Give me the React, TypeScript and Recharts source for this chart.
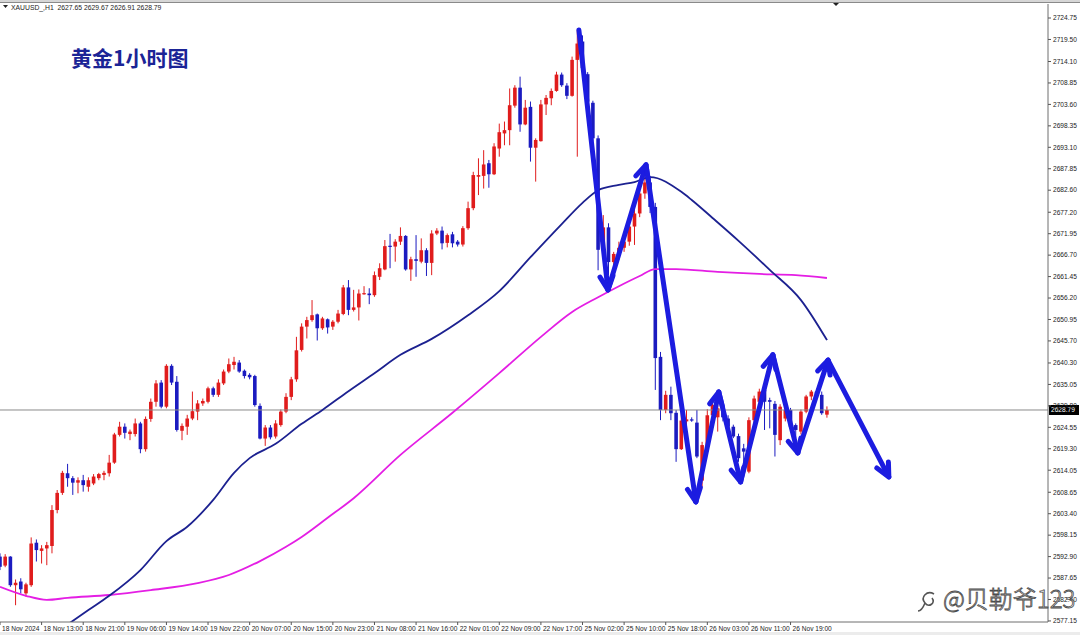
import React from "react";
import { ComposedChart, Bar, Line, XAxis, YAxis, ReferenceLine } from "recharts";

// XAUUSD H1 蜡烛数据（开 / 高 / 低 / 收），按柱序排列
const opens = [
  2592.9, 2590.7, 2592.9, 2585.9, 2586.8, 2583.9, 2585.9, 2596.3, 2594.3, 2594.9,
  2595.5, 2604.3, 2608.5, 2613.3, 2612.1, 2611.0, 2611.6, 2610.0, 2610.8, 2612.1,
  2612.9, 2613.3, 2615.9, 2622.7, 2624.7, 2622.9, 2622.9, 2625.5, 2619.2, 2626.6,
  2630.8, 2635.5, 2629.6, 2639.6, 2635.7, 2623.7, 2624.7, 2626.7, 2628.4, 2630.4,
  2630.8, 2634.1, 2632.5, 2635.3, 2638.2, 2639.8, 2640.4, 2638.4, 2637.4, 2637.1,
  2629.8, 2621.8, 2624.5, 2622.3, 2625.1, 2628.4, 2632.0, 2636.3, 2643.5, 2649.2,
  2650.8, 2652.2, 2648.8, 2651.0, 2649.2, 2650.4, 2652.3, 2658.8, 2653.3, 2653.9,
  2657.3, 2657.3, 2656.9, 2661.4, 2663.2, 2669.0, 2668.8, 2670.0, 2671.4, 2663.2,
  2665.7, 2665.1, 2667.9, 2664.8, 2672.0, 2672.7, 2669.7, 2671.8, 2670.0, 2669.3,
  2673.3, 2678.2, 2685.9, 2686.1, 2689.2, 2686.5, 2692.8, 2696.5, 2697.3, 2703.3,
  2707.7, 2698.7, 2703.0, 2693.0, 2694.6, 2703.6, 2705.1, 2706.9, 2710.9, 2708.2,
  2705.7, 2714.5, 2719.0, 2711.0, 2704.0, 2695.3, 2668.0, 2673.5, 2665.0, 2667.0,
  2668.5, 2670.0, 2673.7, 2676.9, 2681.8, 2684.5, 2678.5, 2641.8, 2628.8, 2632.5,
  2628.1, 2619.2, 2626.0, 2626.5, 2625.7, 2611.5, 2620.2, 2627.5, 2627.0, 2629.2,
  2626.7, 2624.7, 2622.4, 2619.4, 2613.7, 2626.3, 2630.8, 2633.7, 2631.2, 2630.3,
  2621.4, 2626.7, 2628.8, 2625.1, 2623.5, 2628.4, 2632.1, 2633.3, 2632.5, 2627.65,
];
const highs = [
  2593.7, 2593.5, 2593.0, 2587.3, 2587.6, 2586.5, 2597.6, 2597.1, 2595.7, 2596.5,
  2605.5, 2609.2, 2613.9, 2615.6, 2612.6, 2612.3, 2612.9, 2612.3, 2613.1, 2613.4,
  2613.9, 2617.8, 2623.2, 2625.9, 2625.5, 2624.0, 2626.7, 2625.9, 2627.2, 2631.6,
  2636.1, 2636.1, 2640.0, 2640.0, 2637.1, 2625.5, 2627.6, 2633.3, 2631.2, 2631.6,
  2634.5, 2634.5, 2636.3, 2638.7, 2641.4, 2641.8, 2641.0, 2638.7, 2637.8, 2637.4,
  2630.4, 2625.1, 2625.1, 2626.3, 2628.9, 2632.9, 2636.9, 2646.7, 2650.0, 2651.6,
  2655.7, 2652.4, 2651.6, 2651.2, 2650.8, 2653.3, 2659.4, 2660.6, 2658.2, 2658.3,
  2659.1, 2658.6, 2662.7, 2664.7, 2670.4, 2671.9, 2670.6, 2673.5, 2671.6, 2666.3,
  2671.6, 2670.8, 2668.4, 2672.8, 2673.3, 2673.7, 2672.0, 2672.4, 2670.4, 2673.8,
  2679.8, 2687.1, 2690.4, 2692.4, 2690.0, 2694.1, 2698.9, 2699.4, 2707.5, 2708.3,
  2710.4, 2704.7, 2704.3, 2695.3, 2704.7, 2705.9, 2707.5, 2711.6, 2711.4, 2708.8,
  2715.3, 2721.8, 2720.5, 2711.5, 2704.5, 2696.0, 2676.5, 2674.5, 2667.5, 2670.0,
  2671.0, 2674.5, 2678.5, 2683.0, 2686.0, 2686.0, 2679.5, 2643.0, 2633.5, 2634.5,
  2628.8, 2628.8, 2628.8, 2627.0, 2628.8, 2621.0, 2629.0, 2631.5, 2631.0, 2630.5,
  2627.5, 2625.2, 2623.0, 2620.5, 2627.0, 2632.3, 2634.0, 2634.5, 2631.8, 2631.0,
  2630.2, 2629.4, 2629.3, 2625.5, 2628.9, 2632.5, 2633.7, 2634.0, 2633.3, 2629.67,
];
const lows = [
  2589.6, 2590.3, 2585.5, 2581.0, 2583.9, 2583.1, 2585.5, 2591.7, 2591.2, 2590.8,
  2593.7, 2603.5, 2608.0, 2610.0, 2608.0, 2608.4, 2608.8, 2608.8, 2610.4, 2611.6,
  2611.6, 2612.5, 2615.6, 2622.3, 2621.8, 2621.4, 2622.3, 2618.2, 2618.6, 2625.9,
  2629.6, 2629.2, 2629.2, 2634.9, 2623.5, 2621.4, 2622.7, 2626.3, 2626.3, 2629.8,
  2630.4, 2632.0, 2632.0, 2634.9, 2637.8, 2638.7, 2637.9, 2636.5, 2636.3, 2629.6,
  2621.6, 2620.0, 2621.6, 2621.8, 2624.7, 2628.0, 2631.2, 2635.7, 2643.1, 2646.3,
  2650.4, 2645.8, 2648.4, 2647.5, 2648.4, 2650.0, 2652.0, 2652.0, 2652.9, 2650.7,
  2657.0, 2654.7, 2656.5, 2660.6, 2663.0, 2663.5, 2665.1, 2669.2, 2662.9, 2660.4,
  2661.4, 2664.7, 2661.6, 2661.8, 2671.6, 2668.1, 2668.6, 2668.6, 2668.8, 2668.8,
  2672.9, 2677.7, 2681.4, 2683.0, 2683.2, 2686.3, 2690.8, 2693.6, 2693.6, 2702.8,
  2696.9, 2698.5, 2689.6, 2684.7, 2694.5, 2701.0, 2703.4, 2706.7, 2707.9, 2704.9,
  2705.5, 2690.8, 2711.0, 2701.8, 2694.5, 2663.0, 2666.5, 2661.8, 2664.0, 2665.5,
  2667.5, 2669.0, 2669.2, 2676.0, 2680.5, 2677.0, 2633.7, 2626.3, 2628.0, 2626.3,
  2616.1, 2619.0, 2624.5, 2625.9, 2617.0, 2610.0, 2619.5, 2626.5, 2623.5, 2626.0,
  2623.9, 2621.9, 2616.1, 2614.5, 2613.3, 2625.8, 2630.2, 2623.9, 2624.3, 2617.4,
  2620.2, 2626.0, 2624.0, 2622.0, 2622.8, 2628.0, 2631.2, 2631.5, 2627.6, 2626.91,
];
const closes = [
  2590.4, 2592.9, 2585.9, 2586.5, 2584.9, 2586.1, 2596.1, 2594.5, 2594.9, 2595.7,
  2604.3, 2608.5, 2613.4, 2612.1, 2611.0, 2611.6, 2610.4, 2611.6, 2612.5, 2613.1,
  2613.4, 2615.9, 2622.8, 2624.7, 2623.2, 2623.5, 2625.5, 2619.2, 2626.6, 2630.8,
  2635.3, 2629.6, 2639.6, 2635.5, 2623.9, 2624.9, 2626.7, 2628.5, 2630.4, 2631.0,
  2634.1, 2632.5, 2635.5, 2638.2, 2640.0, 2640.6, 2638.2, 2637.1, 2636.8, 2630.0,
  2621.8, 2624.5, 2622.1, 2625.5, 2628.4, 2632.0, 2636.3, 2643.4, 2649.2, 2650.8,
  2652.0, 2648.8, 2651.2, 2649.0, 2650.4, 2652.4, 2658.8, 2653.3, 2653.9, 2657.3,
  2657.4, 2656.9, 2661.8, 2663.5, 2668.9, 2668.8, 2670.0, 2671.4, 2663.2, 2665.7,
  2665.3, 2667.9, 2664.8, 2672.0, 2672.7, 2669.6, 2671.6, 2669.6, 2669.3, 2673.3,
  2678.2, 2686.3, 2686.3, 2688.9, 2686.5, 2693.3, 2696.8, 2697.3, 2703.4, 2707.7,
  2698.7, 2702.8, 2693.0, 2694.9, 2703.6, 2705.2, 2706.9, 2710.9, 2708.3, 2705.7,
  2714.5, 2718.5, 2712.5, 2704.3, 2695.3, 2668.0, 2673.5, 2665.0, 2667.0, 2668.5,
  2670.0, 2673.7, 2676.9, 2681.8, 2684.5, 2678.5, 2641.5, 2628.8, 2632.5, 2628.0,
  2619.2, 2626.2, 2626.5, 2626.2, 2617.4, 2620.2, 2627.5, 2630.0, 2629.2, 2627.0,
  2624.7, 2622.3, 2617.0, 2618.6, 2626.3, 2631.6, 2633.3, 2630.8, 2630.8, 2622.7,
  2629.6, 2628.8, 2624.7, 2623.9, 2628.4, 2632.1, 2633.3, 2632.5, 2628.0, 2628.79,
];

// 时间轴标签，每 8 根 K 线一个
const timeLabels = [
  "18 Nov 2024", "18 Nov 13:00", "18 Nov 21:00", "19 Nov 06:00", "19 Nov 14:00",
  "19 Nov 22:00", "20 Nov 07:00", "20 Nov 15:00", "20 Nov 23:00", "21 Nov 08:00",
  "21 Nov 16:00", "22 Nov 01:00", "22 Nov 09:00", "22 Nov 17:00", "25 Nov 02:00",
  "25 Nov 10:00", "25 Nov 18:00", "26 Nov 03:00", "26 Nov 11:00", "26 Nov 19:00",
];
const timeTickIdx = [0, 8, 16, 24, 32, 40, 48, 56, 64, 72, 80, 88, 96, 104, 112, 120, 128, 136, 144, 152];

// 价格轴刻度
const priceTicks = [
  2724.75, 2719.5, 2714.1, 2708.85, 2703.6, 2698.35, 2693.1, 2687.85, 2682.6, 2677.2,
  2671.95, 2666.7, 2661.45, 2656.2, 2650.95, 2645.7, 2640.3, 2635.05, 2629.8, 2624.55,
  2619.3, 2614.05, 2608.65, 2603.4, 2598.15, 2592.9, 2587.65, 2582.4, 2577.15,
];

// 均线（读图取样）
const slowMaIdx = [12, 17, 21, 27, 32, 36, 41, 45, 48, 53, 58, 62, 67, 72, 77, 83, 90, 96, 102, 108, 112, 115, 119, 122, 125, 131, 133, 137, 142, 146, 148, 154, 159];
const slowMaVal = [2575.4, 2579.8, 2583.3, 2589.6, 2596.7, 2600.2, 2606.8, 2613.4, 2617.0, 2620.5, 2625.4, 2628.8, 2633.4, 2637.8, 2642.3, 2646.2, 2652.0, 2657.9, 2666.2, 2674.3, 2679.5, 2682.6, 2683.9, 2684.6, 2685.8, 2682.2, 2680.2, 2675.8, 2670.2, 2665.5, 2663.1, 2655.7, 2645.9];
const longMaIdx = [0, 5, 9, 13, 21, 29, 38, 44, 50, 55, 58, 63, 68, 77, 87, 96, 104, 110, 115, 119, 123, 126, 130, 138, 146, 153, 159];
const longMaVal = [2585.5, 2583.3, 2582.3, 2582.8, 2583.5, 2584.7, 2586.4, 2588.4, 2591.8, 2595.3, 2597.7, 2602.4, 2607.2, 2617.8, 2628.1, 2637.8, 2646.7, 2652.8, 2656.4, 2659.1, 2661.6, 2663.3, 2663.3, 2662.6, 2662.1, 2661.8, 2661.1];

// 手绘走势箭头的折点
const arrowIdx = [111.3, 116.9, 124.2, 133.8, 138.2, 142.4, 148.6, 153.4, 159.2, 170.9];
const arrowVal = [2721.8, 2658.2, 2688.8, 2606.3, 2633.2, 2611.2, 2642.3, 2618.3, 2641.0, 2612.4];

const LAST = 2628.79;
const BULL = "#e01c1c";
const BEAR = "#1b1bc0";
const ARROW = "#1c1ce0";
const BODY_W = 3.6;

const rows = opens.map((o, i) => ({
  i,
  o,
  c: closes[i],
  range: [lows[i], highs[i]],
}));
const slowMa = slowMaIdx.map((i, k) => ({ i, v: slowMaVal[k] }));
const longMa = longMaIdx.map((i, k) => ({ i, v: longMaVal[k] }));
const arrowSegs = arrowIdx.slice(1).map((i, k) => [
  { i: arrowIdx[k], v: arrowVal[k] },
  { i, v: arrowVal[k + 1] },
]);

const Candle = (props: any) => {
  const { x, y, width, height, payload } = props;
  if (!payload || payload.o == null) return null;
  const top = Math.min(y, y + height);
  const bot = Math.max(y, y + height);
  const [lo, hi] = payload.range;
  const span = hi - lo || 1;
  const toY = (p: number) => bot - ((p - lo) / span) * (bot - top);
  const color = payload.c >= payload.o ? BULL : BEAR;
  const cx = x + width / 2;
  const bTop = toY(Math.max(payload.o, payload.c));
  const bBot = toY(Math.min(payload.o, payload.c));
  return (
    <g>
      <line x1={cx} x2={cx} y1={top} y2={bot} stroke={color} strokeWidth={1} />
      <rect x={cx - BODY_W / 2} y={bTop} width={BODY_W} height={Math.max(1.2, bBot - bTop)} fill={color} />
    </g>
  );
};

// 箭头头部：用上一个点的方向画 V 形
const ArrowHead = (props: any) => {
  const { cx, cy, index, points } = props;
  if (index !== 1 || !points || points.length < 2) return <g key={`ah-${index}`} />;
  const p0 = points[0];
  const ang = Math.atan2(cy - p0.y, cx - p0.x);
  const len = 15;
  const a1 = ang + Math.PI - 0.45;
  const a2 = ang + Math.PI + 0.45;
  return (
    <polyline
      key={`ah-${index}`}
      points={`${cx + len * Math.cos(a1)},${cy + len * Math.sin(a1)} ${cx},${cy} ${cx + len * Math.cos(a2)},${cy + len * Math.sin(a2)}`}
      fill="none"
      stroke={ARROW}
      strokeWidth={5}
      strokeLinecap="round"
      strokeLinejoin="round"
    />
  );
};

const TimeTick = (props: any) => {
  const { x, y, payload } = props;
  const k = timeTickIdx.indexOf(payload.value);
  return (
    <g>
      <line x1={x} x2={x} y1={y} y2={y + 3} stroke="#555" />
      <text x={x + 2} y={y + 8.5} fontSize={6.6} fill="#222" fontFamily="Liberation Sans, Arial, sans-serif">
        {k >= 0 ? timeLabels[k] : ""}
      </text>
    </g>
  );
};

const PriceTick = (props: any) => {
  const { x, y, payload } = props;
  return (
    <g>
      <line x1={x} x2={x + 3} y1={y} y2={y} stroke="#555" />
      <text x={x + 5} y={y + 2.3} fontSize={6.6} fill="#222" fontFamily="Liberation Sans, Arial, sans-serif">
        {payload.value.toFixed(2)}
      </text>
    </g>
  );
};

const LastPriceLabel = (props: any) => {
  const { viewBox } = props;
  const x = viewBox.x + viewBox.width + 1;
  const y = viewBox.y;
  return (
    <g>
      <rect x={x} y={y - 5} width={30} height={10} fill="#000" />
      <text x={x + 2} y={y + 2.4} fontSize={6.6} fill="#fff" fontFamily="Liberation Sans, Arial, sans-serif">
        {LAST.toFixed(2)}
      </text>
    </g>
  );
};

export default function App() {
  const last = rows.length - 1;
  const header = `XAUUSD_,H1  ${opens[last].toFixed(2)} ${highs[last].toFixed(2)} ${lows[last].toFixed(2)} ${closes[last].toFixed(2)}`;
  return (
    <div style={{ position: "fixed", left: 0, top: 0, width: 1080, height: 635, background: "#fff", overflow: "hidden" }}>
      <ComposedChart width={1080} height={635} data={rows} margin={{ top: 4, right: 0, bottom: 0, left: 0 }}>
        <XAxis
          type="number"
          dataKey="i"
          domain={[0, 201.5]}
          allowDataOverflow
          ticks={timeTickIdx}
          interval={0}
          tick={<TimeTick />}
          tickLine={false}
          tickSize={0}
          tickMargin={0}
          axisLine={{ stroke: "#6e6e6e" }}
          height={13}
        />
        <YAxis
          orientation="right"
          domain={[2576.89, 2728.18]}
          allowDataOverflow
          ticks={priceTicks}
          interval={0}
          tick={<PriceTick />}
          tickLine={false}
          tickSize={0}
          tickMargin={0}
          axisLine={{ stroke: "#6e6e6e" }}
          width={32}
        />
        <ReferenceLine y={LAST} stroke="#8a8a8a" strokeWidth={1} label={<LastPriceLabel />} />
        <Line data={longMa} dataKey="v" type="monotone" stroke="#e41ee4" strokeWidth={1.8} dot={false} isAnimationActive={false} />
        <Line data={slowMa} dataKey="v" type="monotone" stroke="#1c2190" strokeWidth={1.8} dot={false} isAnimationActive={false} />
        <Bar dataKey="range" shape={<Candle />} barSize={3} isAnimationActive={false} />
        {arrowSegs.map((seg, k) => (
          <Line
            key={k}
            data={seg}
            dataKey="v"
            type="linear"
            stroke={ARROW}
            strokeWidth={5}
            strokeLinecap="round"
            dot={<ArrowHead />}
            activeDot={false}
            isAnimationActive={false}
          />
        ))}
      </ComposedChart>
      <svg width={1080} height={635} style={{ position: "absolute", left: 0, top: 0, pointerEvents: "none" }}>
        <rect x={0} y={0} width={1080} height={2} fill="#d6d6d6" />
        <line x1={0} x2={1080} y1={2.5} y2={2.5} stroke="#8a8a8a" />
        <rect x={0} y={632} width={1080} height={3} fill="#ececec" />
        <polygon points="833,3 839,3 836,6" fill="#222" />
        <polygon points="3,5 8,5 5.5,8" fill="#222" />
        <text x={11} y={9.5} fontSize={6.8} fill="#222" fontFamily="Liberation Sans, Arial, sans-serif" xmlSpace="preserve">
          {header}
        </text>
        <text
          x={71}
          y={66}
          fontSize={21}
          fontWeight={700}
          fill="#1b2496"
          fontFamily="'Noto Sans CJK SC', sans-serif"
        >
          黄金1小时图
        </text>
        <path
          d="M934 594 C927 590 920 597 925 603 C929 608 936 603 932 598 M925 603 C923 608 921 611 918 611"
          fill="none"
          stroke="#555"
          strokeWidth={1.6}
        />
        <text
          x={943}
          y={608}
          fontSize={24}
          fontWeight={300}
          fill="#fff"
          fillOpacity={0.85}
          stroke="#4a4a4a"
          strokeWidth={0.8}
          fontFamily="'Noto Sans CJK SC', sans-serif"
        >
          @贝勒爷123
        </text>
      </svg>
    </div>
  );
}
